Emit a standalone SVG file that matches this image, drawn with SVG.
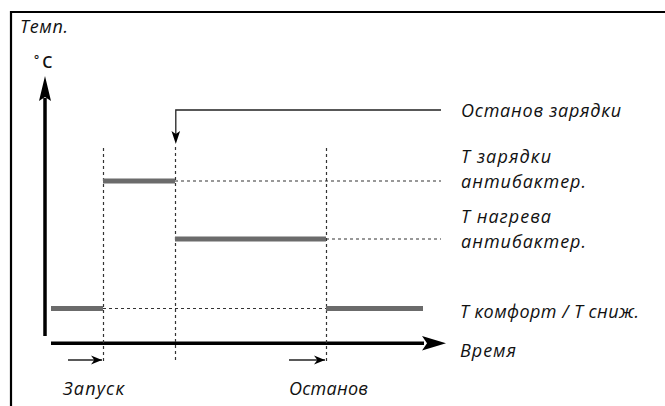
<svg xmlns="http://www.w3.org/2000/svg" width="665" height="406" viewBox="0 0 665 406">
<defs>
<style>
.t{font-family:"Open Sans","Liberation Sans",sans-serif;font-style:italic;font-size:18px;fill:#111}
.u{font-family:"Open Sans","Liberation Sans",sans-serif;font-size:16px;font-weight:600;fill:#111}
.bar{stroke:#6b6b6b;stroke-width:5;fill:none}
.dot{stroke:#333;stroke-width:1.2;stroke-dasharray:3 3;fill:none}
.ax{stroke:#000;stroke-width:3.5;fill:none}
.thin{stroke:#222;stroke-width:1.3;fill:none}
</style>
<marker id="ah" viewBox="0 0 10 10" refX="10" refY="5" markerWidth="11" markerHeight="11" markerUnits="userSpaceOnUse" orient="auto">
<path d="M0,1 L10,5 L0,9 L3,5 Z" fill="#000"/>
</marker>
</defs>
<rect width="665" height="406" fill="#fff"/>
<path d="M11,406 V12 H665" stroke="#000" stroke-width="2.2" fill="none"/>
<g id="connectors">
<line class="ax" x1="45" y1="336" x2="45" y2="98"/>
<path d="M45,76 L51,101 L45,97 L39,101 Z" fill="#000"/>
<line class="ax" x1="51" y1="343.3" x2="424" y2="343.3"/>
<path d="M446,343.3 L422,336 L427,343.3 L422,350.6 Z" fill="#000"/>
<line class="dot" x1="103.5" y1="148" x2="103.5" y2="361"/>
<line class="dot" x1="175.5" y1="147" x2="175.5" y2="361"/>
<line class="dot" x1="326.5" y1="148" x2="326.5" y2="361"/>
<line class="dot" x1="175" y1="181" x2="441" y2="181"/>
<line class="dot" x1="326" y1="239" x2="441" y2="239"/>
<line class="dot" x1="103" y1="308.5" x2="326" y2="308.5"/>
<path class="thin" d="M441,110 H175.8 V140"/>
<path d="M175.8,144 L171.5,131 L175.8,134 L180.1,131 Z" fill="#000"/>
<line class="thin" x1="68" y1="360" x2="102" y2="360" marker-end="url(#ah)"/>
<line class="thin" x1="289" y1="360" x2="325" y2="360" marker-end="url(#ah)"/>
</g>
<g id="bars">
<line class="bar" x1="51" y1="308.5" x2="103" y2="308.5"/>
<line class="bar" x1="103" y1="181" x2="175" y2="181"/>
<line class="bar" x1="175" y1="239" x2="326" y2="239"/>
<line class="bar" x1="326" y1="308.5" x2="423" y2="308.5"/>
</g>
<g id="axis-labels">
<text class="t" x="20" y="33" textLength="48">Темп.</text>
<text class="u" x="34" y="68"><tspan font-size="12" dy="-4">°</tspan><tspan dx="3" dy="4">C</tspan></text>
<text class="t" x="460" y="357" textLength="56">Время</text>
<text class="t" x="63" y="395" textLength="61">Запуск</text>
<text class="t" x="289" y="395" textLength="79">Останов</text>
</g>
<g id="labels">
<text class="t" x="461" y="117" textLength="160">Останов зарядки</text>
<text class="t" x="461" y="163" textLength="90">Т  зарядки</text>
<text class="t" x="461" y="188" textLength="125">антибактер.</text>
<text class="t" x="461" y="223" textLength="90">Т  нагрева</text>
<text class="t" x="461" y="248" textLength="125">антибактер.</text>
<text class="t" x="460" y="317.5" textLength="179">Т комфорт / Т сниж.</text>
</g>
</svg>
